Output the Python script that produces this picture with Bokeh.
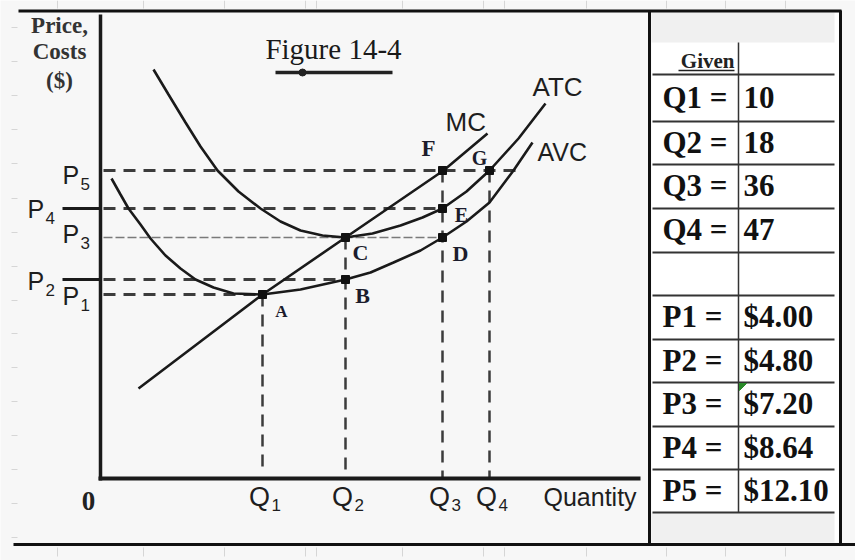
from bokeh.plotting import figure
from bokeh.models import Range1d, ColumnDataSource
from bokeh.core.properties import value
from bokeh.embed import file_html
from bokeh.resources import INLINE

# ---------------- data (diagram units: right of / above the axis origin) ----------------
q_names = ["Q", "Q", "Q", "Q"]
q_subs = ["1", "2", "3", "4"]
q_pos = [162, 245, 342, 389]

p_subs = ["1", "2", "3", "4", "5"]
p_pos = [184, 199, 241, 270, 308]

mc_q = [38, 100, 162, 245, 343, 387]
mc_c = [90, 137, 184, 241, 308, 345]

atc_q = [53, 68, 85, 100, 117, 138, 160, 180, 200, 222, 245, 272, 300, 322, 342, 366, 389, 418, 445]
atc_c = [409, 384, 356, 332, 308, 287, 270, 257, 248, 243, 241, 245, 253, 261, 270, 287, 308, 340, 375]

avc_q = [11, 20, 28, 40, 50, 65, 80, 95, 113, 133, 162, 200, 245, 270, 293, 320, 342, 366, 389, 413, 432]
avc_c = [300, 284, 270, 254, 240, 223, 210, 199, 191, 185, 184, 189, 199, 206, 216, 228, 241, 257, 276, 308, 336]

point_names = ["A", "B", "C", "D", "E", "F", "G"]
point_q = [162, 245, 245, 342, 342, 342, 389]
point_c = [184, 199, 241, 241, 270, 308, 308]

table_labels = ["Q1 =", "Q2 =", "Q3 =", "Q4 =", "", "P1 =", "P2 =", "P3 =", "P4 =", "P5 ="]
table_values = ["10", "18", "36", "47", "", "$4.00", "$4.80", "$7.20", "$8.64", "$12.10"]

# ---------------- layout ----------------
OX, OY = 100, 478          # page position of the axis origin
W, H = 855, 560


def X(px):
    return px - OX


def Y(py):
    return OY - py


INK = "#1a1a1a"
DASH = "#3c3c3c"
SANS = value("Liberation Sans")
SERIF = value("Liberation Serif")

p = figure(width=W, height=H, output_backend="svg", toolbar_location=None,
           x_range=Range1d(X(0), X(W)), y_range=Range1d(Y(H), Y(0)),
           x_axis_type=None, y_axis_type=None, min_border=0)
p.outline_line_color = None
p.background_fill_color = "#f7f7f7"
p.border_fill_color = "#f7f7f7"
p.xgrid.visible = False
p.ygrid.visible = False


def label(x, y, text, font=SANS, size="25px", align="left", style="normal", color="#1e1e1e"):
    p.text(x=x, y=y, text=text, text_font=font, text_font_size=size, text_align=align,
           text_baseline="middle", text_font_style=style, text_color=color)


# ---- faint spreadsheet grid stubs outside the frame ----
stub_x = [57, 143, 224, 305, 316, 402, 483, 504, 586, 666, 725, 785]
p.segment(x0=[X(s) for s in stub_x], x1=[X(s) for s in stub_x], y0=[Y(0)] * len(stub_x),
          y1=[Y(8)] * len(stub_x), line_color="#d6d6d6", line_width=1)
p.segment(x0=[X(s) for s in stub_x], x1=[X(s) for s in stub_x], y0=[Y(547)] * len(stub_x),
          y1=[Y(556)] * len(stub_x), line_color="#d6d6d6", line_width=1)
stub_y = [27, 61, 95, 129, 163, 198, 232, 266, 300, 333, 367, 401, 435, 469, 503, 537]
p.segment(x0=[X(11)] * len(stub_y), x1=[X(17)] * len(stub_y), y0=[Y(s) for s in stub_y],
          y1=[Y(s) for s in stub_y], line_color="#d6d6d6", line_width=1)

# ---- table panel ----
p.quad(left=[X(651)], right=[X(839)], top=[Y(12)], bottom=[Y(542)], fill_color="white", line_color=None)
p.quad(left=[X(651), X(651)], right=[X(834), X(834)], top=[Y(12), Y(512)], bottom=[Y(42), Y(542)],
       fill_color="#f0f0f0", line_color=None)
row_lines = [74, 121, 164, 208, 252, 295, 339, 382, 426, 469, 512]
p.segment(x0=[X(652)] * len(row_lines), x1=[X(834)] * len(row_lines),
          y0=[Y(r) for r in row_lines], y1=[Y(r) for r in row_lines], line_color="#333333", line_width=2)
p.segment(x0=[X(738)], x1=[X(738)], y0=[Y(42)], y1=[Y(512)], line_color="#333333", line_width=1.5)
p.patch(x=[X(739), X(746), X(739)], y=[Y(383), Y(383), Y(390)], color="#2a8a2a")

row_mid = [(row_lines[i] + row_lines[i + 1]) / 2 for i in range(len(row_lines) - 1)]
tsrc = ColumnDataSource(dict(y=[Y(m) + 1 for m in row_mid], lab=table_labels, val=table_values,
                             xl=[X(662)] * len(row_mid), xv=[X(743)] * len(row_mid)))
p.text(x="xl", y="y", text="lab", source=tsrc, text_font=SERIF, text_font_style="bold",
       text_font_size="31px", text_baseline="middle", text_align="left", text_color="#111111")
p.text(x="xv", y="y", text="val", source=tsrc, text_font=SERIF, text_font_style="bold",
       text_font_size="31px", text_baseline="middle", text_align="left", text_color="#111111")
label([X(734)], [Y(60)], ["Given"], font=SERIF, size="21px", align="right", style="bold", color="#222222")
p.segment(x0=[X(678)], x1=[X(734)], y0=[Y(70)], y1=[Y(70)], line_color="#222222", line_width=1.5)

# ---- frame lines ----
p.segment(x0=[X(18), X(840), X(13), X(649)], x1=[X(841), X(840), X(855), X(649)],
          y0=[Y(10.5), Y(10), Y(544), Y(10)], y1=[Y(10.5), Y(545), Y(544), Y(545)],
          line_color="#111111", line_width=3)

# ---- dashed guide lines ----
h_end = [point_q[0], point_q[1], point_q[3], point_q[4], 418]
for i, (pp, e) in enumerate(zip(p_pos, h_end)):
    if i == 2:
        p.segment(x0=[3], x1=[e], y0=[pp], y1=[pp], line_color="#7a7a7a", line_width=1.6, line_dash="9 3")
    else:
        p.segment(x0=[3], x1=[e], y0=[pp], y1=[pp], line_color=DASH, line_width=3, line_dash="12 8")
v_top = [p_pos[0], p_pos[2], p_pos[4], p_pos[4]]
v_bot = [8, 8, 0, 0]
p.segment(x0=q_pos, x1=q_pos, y0=v_top, y1=v_bot, line_color=DASH, line_width=2.5, line_dash="12 8")

# solid ticks for P2 and P4
p.segment(x0=[X(62), X(62)], x1=[0, 0], y0=[p_pos[1], p_pos[3]], y1=[p_pos[1], p_pos[3]],
          line_color=INK, line_width=3)

# ---- axes ----
p.segment(x0=[0], x1=[0], y0=[-2], y1=[Y(14)], line_color=INK, line_width=3.5)
p.segment(x0=[-2], x1=[X(640)], y0=[0], y1=[0], line_color=INK, line_width=4)

# ---- curves ----
p.line(mc_q, mc_c, line_color=INK, line_width=2.6)
p.line(atc_q, atc_c, line_color=INK, line_width=2.6)
p.line(avc_q, avc_c, line_color=INK, line_width=2.6)

p.scatter(point_q, point_c, marker="square", size=8, color="#111111")

# point labels
lab_dx = [19, 17, 15, 18, 19, -14, -10]
lab_dy = [-17, -16, -15, -16, -6, 22, 13]
lab_sz = ["17px", "22px", "22px", "22px", "20px", "23px", "20px"]
for n, q, c, dx, dy, s in zip(point_names, point_q, point_c, lab_dx, lab_dy, lab_sz):
    label([q + dx], [c + dy], [n], font=SERIF, size=s, align="center", style="bold", color="#1c1c2c")

# curve labels
label([X(445)], [Y(121)], ["MC"], size="26px")
label([X(532)], [Y(86)], ["ATC"], size="26px")
label([X(537)], [Y(151)], ["AVC"], size="25px")

# P labels
p_left = [X(62), X(27), X(62), X(27), X(62)]
p_dy = [-1, -1, 4, 0, -4]
for sub, pp, lx, dy in zip(p_subs, p_pos, p_left, p_dy):
    label([lx], [pp + dy], ["P"], size="25px")
    label([lx + 18], [pp + dy - 9], [sub], size="17px")

# Q labels
label([q - 3 for q in q_pos], [Y(496)] * 4, q_names, size="27px", align="center")
label([q + 9 for q in q_pos], [Y(504)] * 4, q_subs, size="17px")
label([X(543)], [Y(496)], ["Quantity"], size="25px")
label([X(88)], [Y(500)], ["0"], font=SERIF, size="27px", align="center", style="bold", color="#222222")

# y axis title
label([X(59)] * 3, [Y(25), Y(51), Y(80)], ["Price,", "Costs", "($)"], font=SERIF, size="23px",
      align="center", style="bold", color="#333333")

# figure title
label([X(333)], [Y(48)], ["Figure 14-4"], font=SERIF, size="29px", align="center", color="#1a1a1a")
p.segment(x0=[X(275)], x1=[X(392)], y0=[Y(72)], y1=[Y(72)], line_color="#222222", line_width=3.5)
p.scatter([X(302)], [Y(72)], marker="circle", size=7, color="#222222")

open("out.html", "w").write(file_html(p, INLINE))
